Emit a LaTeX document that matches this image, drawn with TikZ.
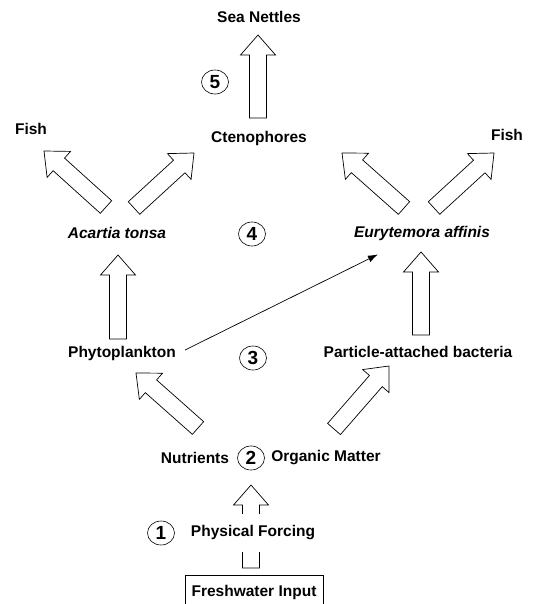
\documentclass[tikz,border=0pt]{standalone}
\usepackage{fontspec}
\setmainfont{Liberation Sans}
\usepackage{tikz}
\usetikzlibrary{arrows.meta,calc,positioning,shapes.geometric}
\tikzset{%
	label/.style    = {font=\bfseries\fontsize{15.5pt}{18pt}\selectfont, inner sep=2pt},
	species/.style  = {label, font=\bfseries\itshape\fontsize{15.5pt}{18pt}\selectfont},
	stage/.style    = {draw, ellipse, line width=0.6pt, minimum width=27pt, minimum height=24pt, inner sep=0pt, font=\bfseries\fontsize{19pt}{22pt}\selectfont},
	source/.style   = {draw, line width=0.7pt, rectangle, minimum width=138pt, minimum height=34pt, label},
	blockarr/.style = {draw, line width=0.7pt, fill=white, line join=miter},
	link/.style     = {line width=0.7pt,-{Latex[length=10pt,width=7pt]}},
}
% block arrow from tail #1 to tip #2
\newcommand{\blockarrow}[2]{%
	\coordinate (ba-h) at ($(#2)!20pt!(#1)$);
	\draw[blockarr] ($(#1)!8.5pt!90:(#2)$) -- ($(ba-h)!8.5pt!90:(#2)$) -- ($(ba-h)!17.5pt!90:(#2)$) -- (#2)
		-- ($(ba-h)!17.5pt!-90:(#2)$) -- ($(ba-h)!8.5pt!-90:(#2)$) -- ($(#1)!8.5pt!-90:(#2)$) -- cycle;}

\begin{document}
\begin{tikzpicture}[x=1pt,y=-1pt]
	\useasboundingbox (0,0) rectangle (537,604);
	\clip (0,0) rectangle (537,604);
	\node[label] (seanettles) at (259,17) {Sea Nettles};
	\node[label] (cteno) at (259,138) {Ctenophores};
	\node[label] (fishL) at (31,129) {Fish};
	\node[label] (fishR) at (507,135) {Fish};
	\node[species] (acartia) at (117,233) {Acartia tonsa};
	\node[species] (euryte) at (422,233) {Eurytemora affinis};
	\node[label] (phyto) at (122,353) {Phytoplankton};
	\node[label] (bact) at (418,352) {Particle-attached bacteria};
	\node[label] (nutr) at (195,458) {Nutrients};
	\node[label] (orgm) at (326,458) {Organic Matter};
	\node[source] (fresh) at (254,592) {Freshwater Input};
	\node[stage] (s5) at (215,82) {5};
	\node[stage] (s4) at (252,234) {4};
	\node[stage] (s3) at (253,358) {3};
	\node[stage] (s2) at (251,458) {2};
	\node[stage] (s1) at (161,533) {1};
	% block arrow ends
	\coordinate (snT) at (258,118);  \coordinate (snH) at (258,35);
	\coordinate (atlT) at (106,207); \coordinate (atlH) at (44,151);
	\coordinate (atrT) at (134,208); \coordinate (atrH) at (194,153);
	\coordinate (eulT) at (404,208); \coordinate (eulH) at (342,153);
	\coordinate (eurT) at (434,208); \coordinate (eurH) at (494,153);
	\coordinate (atuT) at (118,339); \coordinate (atuH) at (118,255);
	\coordinate (euuT) at (421,335); \coordinate (euuH) at (421,252);
	\coordinate (nuT) at (198,428);  \coordinate (nuH) at (136,373);
	\coordinate (omT) at (334,429);  \coordinate (omH) at (389,366);
	\coordinate (fwT) at (251,568);  \coordinate (fwH) at (251,485);
	\blockarrow{snT}{snH}
	\blockarrow{atlT}{atlH}
	\blockarrow{atrT}{atrH}
	\blockarrow{eulT}{eulH}
	\blockarrow{eurT}{eurH}
	\blockarrow{atuT}{atuH}
	\blockarrow{euuT}{euuH}
	\blockarrow{nuT}{nuH}
	\blockarrow{omT}{omH}
	\blockarrow{fwT}{fwH}
	\node[label, fill=white, minimum height=38pt] (phys) at (253,533) {Physical Forcing};
	\draw[link] ([xshift=7pt,yshift=3pt]phyto.east) -- ([xshift=26pt,yshift=-12pt]euryte.south west);
\end{tikzpicture}
\end{document}
